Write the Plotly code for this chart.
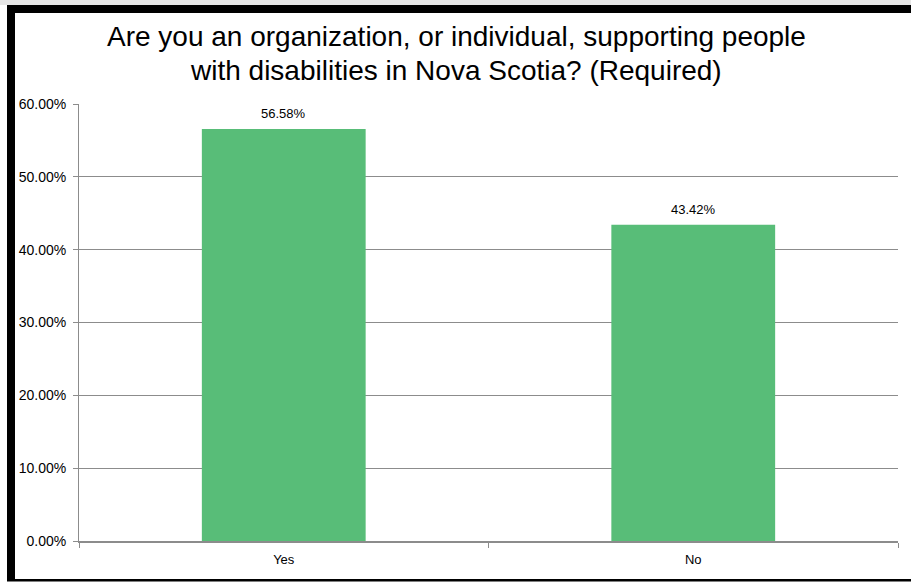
import plotly.graph_objects as go

categories = ["Yes", "No"]
values = [56.58, 43.42]
tick_vals = [0, 10, 20, 30, 40, 50, 60]
tick_text = ["0.00%", "10.00%", "20.00%", "30.00%", "40.00%", "50.00%", "60.00%"]
title_lines = [
    "Are you an organization, or individual, supporting people",
    "with disabilities in Nova Scotia? (Required)",
]

W, H = 911, 582
L, R, T, B = 79, 898, 104, 541

def px(x):
    return (x - L) / (R - L)

def py(y):
    return (B - y) / (B - T)

fig = go.Figure()
fig.add_trace(go.Bar(
    x=categories, y=values,
    marker=dict(color="#58BD78", line=dict(width=0)),
    width=0.4,
    hoverinfo="skip",
))

for c, v in zip(categories, values):
    fig.add_annotation(
        x=c, y=v, text=f"{v:.2f}%", showarrow=False,
        yanchor="bottom", yshift=6,
        font=dict(family="Liberation Sans", size=13, color="#000"),
    )

title_mid_px = [37, 70]
for line, ymid in zip(title_lines, title_mid_px):
    fig.add_annotation(
        xref="paper", yref="paper", x=px(456), y=py(ymid),
        xanchor="center", yanchor="middle", showarrow=False,
        text=line,
        font=dict(family="Liberation Sans", size=28, color="#000"),
    )

shapes = [
    dict(type="rect", xref="paper", yref="paper", x0=px(0), x1=px(W), y0=py(5), y1=py(0),
         fillcolor="#e6e6e6", line=dict(width=0), layer="below"),
    dict(type="rect", xref="paper", yref="paper", x0=px(7), x1=px(W), y0=py(13), y1=py(5),
         fillcolor="#000", line=dict(width=0)),
    dict(type="rect", xref="paper", yref="paper", x0=px(7), x1=px(15), y0=py(581), y1=py(5),
         fillcolor="#000", line=dict(width=0)),
    dict(type="rect", xref="paper", yref="paper", x0=px(7), x1=px(W), y0=py(581.5), y1=py(579),
         fillcolor="#000", line=dict(width=0)),
]

fig.update_layout(
    width=W, height=H,
    margin=dict(l=L, r=W - R, t=T, b=H - B, pad=0),
    paper_bgcolor="white", plot_bgcolor="white",
    showlegend=False,
    bargap=0.6,
    shapes=shapes,
    xaxis=dict(
        showgrid=False, showline=True, linecolor="#8c8c8c", linewidth=1.5,
        ticks="outside", tickson="boundaries", ticklen=5, tickcolor="#8c8c8c",
        tickfont=dict(family="Liberation Sans", size=13, color="#000"),
        ticklabelstandoff=6,
        fixedrange=True,
    ),
    yaxis=dict(
        range=[0, 60], tickvals=tick_vals, ticktext=tick_text,
        showgrid=True, gridcolor="#8c8c8c", gridwidth=1,
        showline=True, linecolor="#8c8c8c", linewidth=1,
        ticks="outside", ticklen=5, tickcolor="#8c8c8c",
        tickfont=dict(family="Liberation Sans", size=14, color="#000"),
        ticklabelstandoff=4,
        zeroline=False, fixedrange=True,
    ),
)

fig.write_html(
    "out.html",
    config={"displayModeBar": False},
    post_script="document.body.style.margin='0px';document.body.style.overflow='hidden';",
)
